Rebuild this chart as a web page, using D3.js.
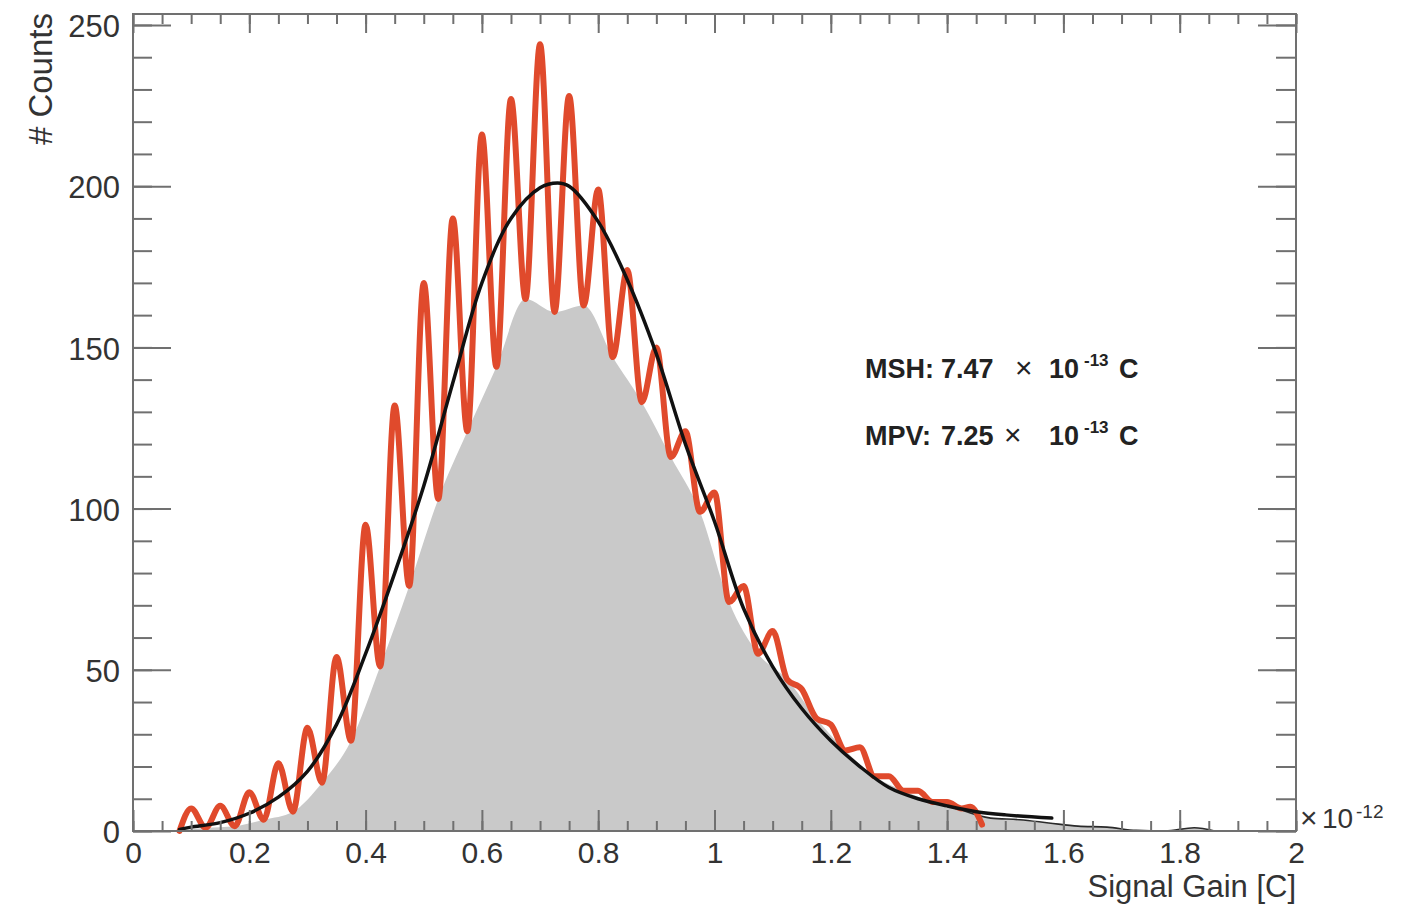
<!DOCTYPE html>
<html>
<head>
<meta charset="utf-8">
<script src="https://cdn.jsdelivr.net/npm/d3@7"></script>
<style>
  html, body { margin: 0; padding: 0; background: #fff; }
  svg { display: block; font-family: "Liberation Sans", Arial, Helvetica, sans-serif; }
</style>
</head>
<body>
<svg id="chart" width="1402" height="911"></svg>
<script>
// ---------------- data ----------------
// fine-binned histogram drawn as smooth curve (red)
const redX = [0.08,0.10,0.125,0.15,0.175,0.20,0.225,0.25,0.275,0.30,0.325,0.35,0.375,0.40,0.425,0.45,0.475,0.50,0.525,0.55,0.575,0.60,0.625,0.65,0.675,0.70,0.725,0.75,0.775,0.80,0.825,0.85,0.875,0.90,0.925,0.95,0.975,1.00,1.025,1.05,1.075,1.10,1.125,1.15,1.175,1.20,1.225,1.25,1.275,1.30,1.325,1.35,1.375,1.40,1.425,1.44,1.46];
const redY = [0,7,1,7.8,1.5,12,3.5,21,6,32,15,54,28,95,51,132,76,170,103,190,124,216,144,227,165,244,161,228,163,199,147,174,133,150,116,124,99,105,71,76,55,62,47,44,35,33,25,26,17,17,12.5,12.5,9,9,7,7.5,2];

// coarse histogram (grey filled)
const greyX = [0.08,0.125,0.175,0.225,0.275,0.325,0.375,0.425,0.475,0.525,0.575,0.625,0.675,0.725,0.775,0.825,0.875,0.925,0.975,1.025,1.075,1.125,1.175,1.225,1.275,1.325,1.375,1.425,1.475,1.525,1.575,1.625,1.675,1.725,1.775,1.825,1.86];
const greyY = [0,1,1.5,3.5,6,15,28,51,76,103,124,144,165,161,163,147,133,116,99,71,55,47,35,25,17,12.5,9,6.5,4,3.5,2.5,1.5,1.2,0.2,0,1,0];

// fit function (black)
const fitX = [0.08,0.10,0.15,0.20,0.25,0.30,0.35,0.40,0.45,0.50,0.55,0.60,0.65,0.70,0.73,0.75,0.80,0.85,0.90,0.95,1.00,1.05,1.10,1.15,1.20,1.25,1.30,1.35,1.40,1.45,1.50,1.58];
const fitY = [0.5,1.2,2.6,5.5,10.5,18.5,33,55,80,107,139,170,190,199.5,201,200,189,171,148,120,96,69,51,38,28,20,13.5,10,7.8,6,5,4];

// axes
const xMajor = [0,0.2,0.4,0.6,0.8,1,1.2,1.4,1.6,1.8,2];
const xLabels = ["0","0.2","0.4","0.6","0.8","1","1.2","1.4","1.6","1.8","2"];
const xMinor = d3.range(0, 41).map(i => i * 0.05);
const yMajor = [0,50,100,150,200,250];
const yLabels = ["0","50","100","150","200","250"];
const yMinor = d3.range(0, 26).map(i => i * 10);
const xDomain = [0, 2];
const yDomain = [0, 253.4];

// texts
const xTitle = "Signal Gain [C]";
const yTitle = "# Counts";
const annotations = [
  {label: "MSH:", value: "7.47", exp: "-13", unit: "C"},
  {label: "MPV:", value: "7.25", exp: "-13", unit: "C"}
];

// ---------------- drawing ----------------
const svg = d3.select("#chart");
const L = 133, R = 1296, T = 14, B = 831;
const x = d3.scaleLinear().domain(xDomain).range([L, R]);
const y = d3.scaleLinear().domain(yDomain).range([B, T]);

const frameCol = "#707070";
const textCol = "#333";

// grey histogram
const grey = greyX.map((d, i) => [d, greyY[i]]);
svg.append("path")
  .attr("d", d3.area().x(d => x(d[0])).y0(y(0)).y1(d => y(d[1])).curve(d3.curveMonotoneX)(grey))
  .attr("fill", "#c9c9c9");
const tail = grey.filter(d => d[0] >= 1.42);
svg.append("path")
  .attr("d", d3.line().x(d => x(d[0])).y(d => y(d[1])).curve(d3.curveMonotoneX)(tail))
  .attr("fill", "none").attr("stroke", "#2a2a2a").attr("stroke-width", 1.6);

// red smoothed histogram
const red = redX.map((d, i) => [d, redY[i]]);
svg.append("path")
  .attr("d", d3.line().x(d => x(d[0])).y(d => y(d[1])).curve(d3.curveMonotoneX)(red))
  .attr("fill", "none").attr("stroke", "#e04a2c").attr("stroke-width", 6)
  .attr("stroke-linejoin", "round").attr("stroke-linecap", "round");

// fit
const fit = fitX.map((d, i) => [d, fitY[i]]);
svg.append("path")
  .attr("d", d3.line().x(d => x(d[0])).y(d => y(d[1])).curve(d3.curveCatmullRom.alpha(0.5))(fit))
  .attr("fill", "none").attr("stroke", "#111").attr("stroke-width", 3.5)
  .attr("stroke-linecap", "round");

// axes (ticks pointing inward, ROOT style)
function styleAxis(g) {
  g.select(".domain").remove();
  g.selectAll(".tick line").attr("stroke", frameCol).attr("stroke-width", 2);
  g.selectAll(".tick text").attr("fill", textCol).attr("font-size", 30);
}
svg.append("g").attr("transform", `translate(0,${B})`)
  .call(d3.axisBottom(x).tickValues(xMinor).tickSize(-10).tickFormat(""))
  .call(styleAxis);
svg.append("g").attr("transform", `translate(0,${B})`)
  .call(d3.axisBottom(x).tickValues(xMajor).tickSize(-21).tickPadding(11)
        .tickFormat((d, i) => xLabels[i]))
  .call(styleAxis);
svg.append("g").attr("transform", `translate(0,${T})`)
  .call(d3.axisTop(x).tickValues(xMinor).tickSize(-10).tickFormat(""))
  .call(styleAxis);
svg.append("g").attr("transform", `translate(0,${T})`)
  .call(d3.axisTop(x).tickValues(xMajor).tickSize(-19).tickFormat(""))
  .call(styleAxis);
svg.append("g").attr("transform", `translate(${L},0)`)
  .call(d3.axisLeft(y).tickValues(yMinor).tickSize(-19).tickFormat(""))
  .call(styleAxis);
svg.append("g").attr("transform", `translate(${L},0)`)
  .call(d3.axisLeft(y).tickValues(yMajor).tickSize(-38).tickPadding(13)
        .tickFormat((d, i) => yLabels[i]))
  .call(styleAxis)
  .call(g => g.selectAll(".tick text").attr("font-size", 31).attr("dy", "0.38em"));
svg.append("g").attr("transform", `translate(${R},0)`)
  .call(d3.axisRight(y).tickValues(yMinor).tickSize(-20).tickFormat(""))
  .call(styleAxis);
svg.append("g").attr("transform", `translate(${R},0)`)
  .call(d3.axisRight(y).tickValues(yMajor).tickSize(-38).tickFormat(""))
  .call(styleAxis);

// frame
svg.append("rect").attr("x", L).attr("y", T).attr("width", R - L).attr("height", B - T)
  .attr("fill", "none").attr("stroke", frameCol).attr("stroke-width", 2);

// axis titles
svg.append("text").attr("x", R).attr("y", 897).attr("text-anchor", "end")
  .attr("font-size", 31).attr("fill", textCol).text(xTitle);
svg.append("text").attr("transform", "translate(52,13) rotate(-90)").attr("text-anchor", "end")
  .attr("font-size", 33).attr("fill", textCol).text(yTitle);

// exponent label
const ex = svg.append("text").attr("y", 828).attr("fill", textCol).attr("font-size", 28);
ex.append("tspan").attr("x", 1300).attr("font-size", 30).text("\u00d7");
ex.append("tspan").attr("x", 1322).text("10");
ex.append("tspan").attr("x", 1356).attr("dy", -10).attr("font-size", 19).text("-12");

// annotations
annotations.forEach((a, i) => {
  const by = 378 + i * 67;
  const t = svg.append("text").attr("y", by).attr("fill", "#222")
    .attr("font-weight", "bold").attr("font-size", 27);
  t.append("tspan").attr("x", 865).text(a.label);
  t.append("tspan").attr("x", 941).text(a.value);
  t.append("tspan").attr("x", i === 0 ? 1015 : 1004).attr("font-weight", "normal")
    .attr("font-size", 30).text("\u00d7");
  t.append("tspan").attr("x", 1049).text("10");
  t.append("tspan").attr("x", 1084).attr("dy", -12).attr("font-size", 17).text(a.exp);
  t.append("tspan").attr("x", 1119).attr("dy", 12).text(a.unit);
});
</script>
</body>
</html>
